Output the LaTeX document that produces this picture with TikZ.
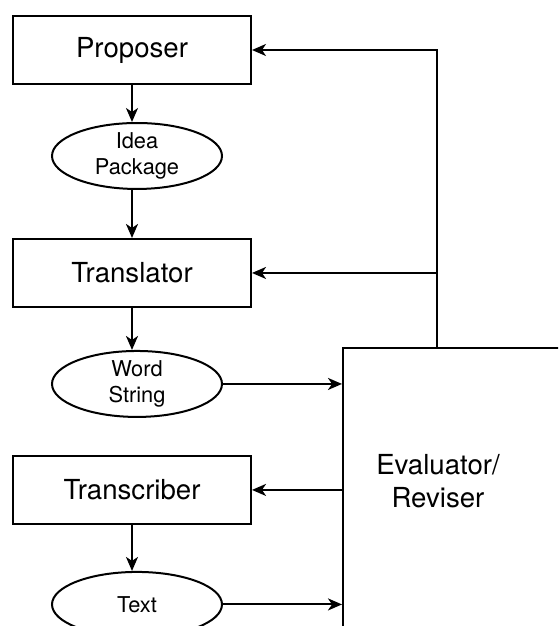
\documentclass[tikz,border=0pt]{standalone}
\usepackage{fontspec}
\setmainfont{TeX Gyre Heros}
\usetikzlibrary{arrows.meta, positioning, shapes}

\begin{document}
\begin{tikzpicture}[
        x=0.5pt, y=-0.5pt,
        node distance=21pt,
        >={Stealth[length=7pt, width=6pt, inset=2pt]},
        line width=1pt,
        stage/.style={rectangle, draw, minimum width=119pt, minimum height=34pt, font=\fontsize{13.8}{16.5}\selectfont},
        data/.style={ellipse, draw, minimum width=85pt, minimum height=32.5pt, inner sep=0pt, align=center, font=\fontsize{10.9}{13}\selectfont}
    ]
        \clip (0,0) rectangle (558,626);
        \node[stage] (proposer) at (132,50) {Proposer};
        \node[data, below=18.5pt of proposer, xshift=2.5pt] (idea) {Idea\\Package};
        \node[stage, below=24pt of idea, xshift=-2.5pt] (translator) {Translator};
        \node[data, below=21pt of translator, xshift=2.5pt] (word) {Word\\String};
        \node[stage, below=18.5pt of word, xshift=-2.5pt] (transcriber) {Transcriber};
        \node[data, below=23pt of transcriber, xshift=2.5pt] (text) {Text};
        \node[rectangle, draw, anchor=north west, minimum width=150pt, minimum height=200pt] (eval) at (342,347) {};
        \node[align=center, font=\fontsize{13.8}{16.5}\selectfont] (evallabel) at (438,481) {Evaluator/\\Reviser};
        \coordinate (fb) at (437,347);

        % Edges
        \draw[->] (proposer.south) -- (proposer.south |- idea.north);
        \draw[->] (idea.south -| proposer.south) -- (translator.north);
        \draw[->] (translator.south) -- (translator.south |- word.north);
        \draw[->] (transcriber.south) -- (transcriber.south |- text.north);
        \draw[->] (word.east) -- (word.east -| eval.west);
        \draw[->] (text.east) -- (text.east -| eval.west);
        \draw[->] (transcriber.east -| eval.west) -- (transcriber.east);
        \draw[->] (fb) |- (proposer.east);
        \draw[->] (fb |- translator.east) -- (translator.east);
    \end{tikzpicture}
\end{document}
